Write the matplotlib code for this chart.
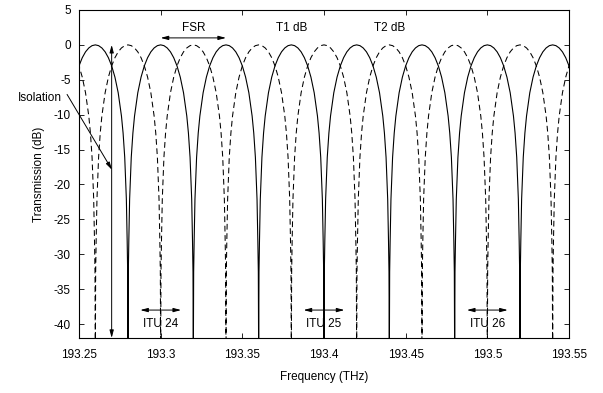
import matplotlib
matplotlib.use('Agg')
import matplotlib.pyplot as plt
import numpy as np

plt.rcParams['font.family'] = ['Liberation Sans', 'DejaVu Sans']
plt.rcParams['axes.unicode_minus'] = False

# Forme d'un lobe : ecart au pic (THz) et transmission (dB)
lobe_offset = [0.0, 0.002, 0.004, 0.006, 0.008, 0.010, 0.012, 0.014,
               0.016, 0.017, 0.018, 0.019, 0.0195, 0.0198, 0.020]
lobe_db = [0.0, -0.11, -0.44, -1.0, -1.84, -3.01, -4.62, -6.86,
           -10.2, -12.64, -16.11, -22.11, -28.12, -32.56, -45.0]

# Pics des deux sorties de l'entrelaceur
t1_peaks = [193.26, 193.30, 193.34, 193.38, 193.42, 193.46, 193.50, 193.54]
t2_peaks = [193.24, 193.28, 193.32, 193.36, 193.40, 193.44, 193.48, 193.52, 193.56]

itu_labels = ['ITU 24', 'ITU 25', 'ITU 26']
itu_freqs = [193.30, 193.40, 193.50]

xticks = [193.25, 193.30, 193.35, 193.40, 193.45, 193.50, 193.55]
xtick_labels = ['193.25', '193.3', '193.35', '193.4', '193.45', '193.5', '193.55']
yticks = [5, 0, -5, -10, -15, -20, -25, -30, -35, -40]


def build_curve(peaks):
    off = np.array(lobe_offset)
    db = np.array(lobe_db)
    lobe_x = np.concatenate([-off[::-1], off[1:]])
    lobe_y = np.concatenate([db[::-1], db[1:]])
    xs = np.concatenate([p + lobe_x for p in peaks])
    ys = np.concatenate([lobe_y for p in peaks])
    return xs, ys


fig = plt.figure(figsize=(6.03, 3.93), dpi=100)
ax = fig.add_axes([0.131, 0.140, 0.8126, 0.8346])

x1, y1 = build_curve(t1_peaks)
x2, y2 = build_curve(t2_peaks)
ax.plot(x1, y1, 'k-', linewidth=0.8)
ax.plot(x2, y2, 'k--', linewidth=0.75, dashes=(5.5, 3.5))

ax.set_xlim(193.25, 193.55)
ax.set_ylim(-42, 5)
ax.set_xticks(xticks)
ax.set_xticklabels(xtick_labels)
ax.set_yticks(yticks)
ax.tick_params(direction='in', top=True, right=True, length=3.5, width=0.6,
               labelsize=8.5)
ax.tick_params(axis='x', pad=8)
ax.tick_params(axis='y', pad=6)
for s in ax.spines.values():
    s.set_linewidth(0.8)
ax.set_xlabel('Frequency (THz)', fontsize=8.5, labelpad=7)
ax.set_ylabel('Transmission (dB)', fontsize=8.5, labelpad=6)

arrow = dict(arrowstyle='<|-|>,head_length=0.45,head_width=0.12', color='k',
             linewidth=0.7, shrinkA=0, shrinkB=0)
one_arrow = dict(arrowstyle='-|>,head_length=0.45,head_width=0.12', color='k',
                 linewidth=0.7, shrinkA=0, shrinkB=0)

# FSR
ax.annotate('', xy=(193.30, 1.0), xytext=(193.34, 1.0), arrowprops=arrow)
ax.text(193.32, 1.6, 'FSR', ha='center', va='bottom', fontsize=8.5)
ax.text(193.38, 1.6, 'T1 dB', ha='center', va='bottom', fontsize=8.5)
ax.text(193.44, 1.6, 'T2 dB', ha='center', va='bottom', fontsize=8.5)

# Isolation
ax.annotate('', xy=(193.27, 0.0), xytext=(193.27, -42), arrowprops=arrow,
            annotation_clip=False)
ax.annotate('', xy=(193.2702, -17.9), xytext=(193.2427, -7.1),
            arrowprops=one_arrow, annotation_clip=False)
ax.text(193.2398, -7.6, 'Isolation', ha='right', va='center', fontsize=8.5)

# Canaux ITU
for lab, f in zip(itu_labels, itu_freqs):
    ax.annotate('', xy=(f - 0.0125, -38.0), xytext=(f + 0.0125, -38.0),
                arrowprops=arrow)
    ax.text(f, -40.0, lab, ha='center', va='center', fontsize=8.5)

plt.savefig('out.png', dpi=100)
